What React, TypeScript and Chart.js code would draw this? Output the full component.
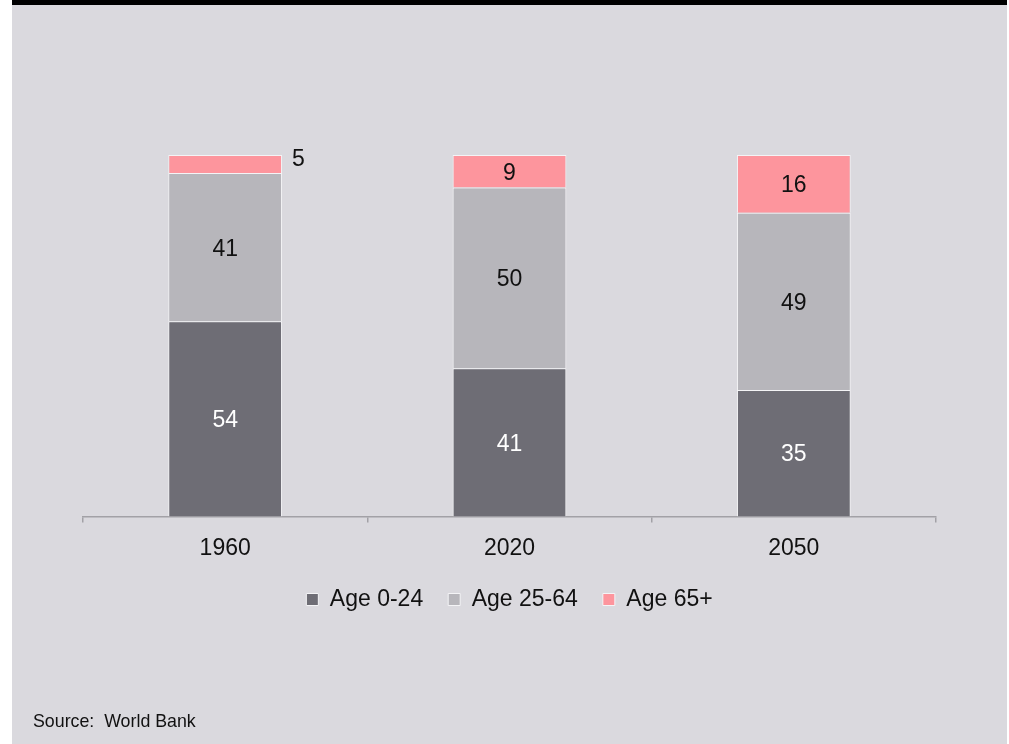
import React, { useEffect, useRef } from "react";
import { Chart, registerables } from "chart.js";

Chart.register(...registerables);

const categories = ["1960", "2020", "2050"];
const age0to24 = [54, 41, 35];
const age25to64 = [41, 50, 49];
const age65plus = [5, 9, 16];
const seriesNames = ["Age 0-24", "Age 25-64", "Age 65+"];
const seriesColors = ["#6e6d75", "#b7b6bb", "#fd959d"];
const labelColors = ["#ffffff", "#111111", "#111111"];
const sourceText = "Source:  World Bank";

const FONT = "'Liberation Sans', Arial, sans-serif";

const valueLabels = {
  id: "valueLabels",
  afterDatasetsDraw(chart: any) {
    const ctx = chart.ctx;
    ctx.save();
    ctx.font = `23px ${FONT}`;
    ctx.textBaseline = "middle";
    chart.data.datasets.forEach((ds: any, di: number) => {
      const meta = chart.getDatasetMeta(di);
      meta.data.forEach((el: any, i: number) => {
        const { x, y, base, width } = el.getProps(["x", "y", "base", "width"], true);
        const h = Math.abs(base - y);
        const v = ds.data[i];
        if (h < 24) {
          ctx.fillStyle = "#111111";
          ctx.textAlign = "left";
          ctx.fillText(String(v), x + width / 2 + 10, (y + base) / 2 - 4);
        } else {
          ctx.fillStyle = labelColors[di];
          ctx.textAlign = "center";
          ctx.fillText(String(v), x, (y + base) / 2 + 2);
        }
      });
    });
    ctx.restore();
  },
};

export default function App() {
  const ref = useRef<HTMLCanvasElement | null>(null);
  useEffect(() => {
    if (!ref.current) return;
    const series = [age0to24, age25to64, age65plus];
    const chart = new Chart(ref.current, {
      type: "bar",
      data: {
        labels: categories,
        datasets: series.map((d, i) => ({
          label: seriesNames[i],
          data: d,
          backgroundColor: seriesColors[i],
          borderColor: "#f4f4f6",
          borderWidth: 1,
          categoryPercentage: 1,
          barPercentage: 0.4,
        })),
      },
      options: {
        animation: false,
        responsive: true,
        maintainAspectRatio: false,
        layout: { padding: { left: 71, right: 71, top: 150, bottom: 123 } },
        scales: {
          x: {
            stacked: true,
            afterFit: (scale: any) => {
              scale.height -= 11;
            },
            grid: {
              offset: true,
              drawOnChartArea: false,
              drawTicks: true,
              tickLength: 6,
              color: "#a2a1a6",
              lineWidth: 1.5,
            },
            border: { display: true, color: "#a2a1a6", width: 1.5 },
            ticks: {
              color: "#111111",
              padding: 12,
              font: { family: FONT, size: 23 },
            },
          },
          y: {
            stacked: true,
            display: false,
            min: 0,
            max: 100,
          },
        },
        plugins: {
          legend: {
            position: "bottom",
            labels: {
              boxWidth: 12,
              boxHeight: 12,
              padding: 25,
              color: "#111111",
              font: { family: FONT, size: 23 },
            },
          },
          tooltip: { enabled: false },
        },
      },
      plugins: [valueLabels],
    });
    return () => chart.destroy();
  }, []);

  return (
    <div
      style={{
        position: "fixed",
        left: 12,
        top: 0,
        width: 995,
        height: 744,
        background: "#dad9de",
        borderTop: "5px solid #000",
        boxSizing: "border-box",
        fontFamily: FONT,
      }}
    >
      <div style={{ position: "absolute", left: 0, top: 0, width: 995, height: 739 }}>
        <canvas ref={ref} />
      </div>
      <div
        style={{
          position: "absolute",
          left: 21,
          top: 706,
          fontSize: 17.8,
          color: "#111111",
          whiteSpace: "pre",
        }}
      >
        {sourceText}
      </div>
    </div>
  );
}
